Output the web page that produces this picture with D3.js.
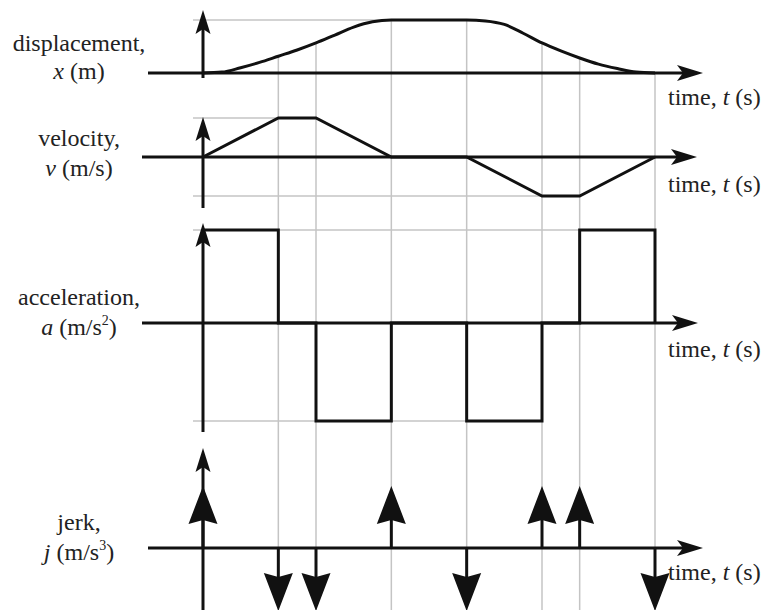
<!DOCTYPE html>
<html>
<head>
<meta charset="utf-8">
<script src="https://cdn.jsdelivr.net/npm/d3@7"></script>
<style>
  body { margin: 0; background: #fff; }
</style>
</head>
<body>
<svg width="769" height="610"></svg>
<script>
// times where something changes (s)
const eventTimes = [0, 2, 3, 5, 7, 9, 10, 12];

// jerk impulses: +1 up, -1 down
const jerkSigns = [1, -1, -1, 1, -1, 1, 1, -1];

// acceleration level from each event until the next one
const accelValues = [1, 0, -1, 0, -1, 0, 1, 0];

// velocity at each event
const velValues = [0, 2, 2, 0, 0, -2, -2, 0];

// displacement
const dispTimes = [0, 0.5, 1, 1.5, 2, 2.5, 3, 3.5, 4, 4.5, 5, 7, 7.5, 8, 8.5, 9, 9.5, 10, 10.5, 11, 11.5, 12];
const dispValues = [0, 0.1, 0.6, 1.2, 1.9, 2.6, 3.4, 4.3, 5.2, 5.8, 6, 6, 5.9, 5.5, 4.5, 3.4, 2.5, 1.7, 1.0, 0.5, 0.1, 0];

const labels = [
  { name: 'displacement,', sym: 'x', unit: ' (m', sup: '' },
  { name: 'velocity,', sym: 'v', unit: ' (m/s', sup: '' },
  { name: 'acceleration,', sym: 'a', unit: ' (m/s', sup: '2' },
  { name: 'jerk,', sym: 'j', unit: ' (m/s', sup: '3' }
];

const svg = d3.select('svg');
const ink = '#111';
const gridColor = '#c4c4c4';
const serif = "'Liberation Serif'";

const x = d3.scaleLinear().domain([0, 12]).range([203, 655]);

const yDisp = d3.scaleLinear().domain([0, 6]).range([73, 20]);
const yVel = d3.scaleLinear().domain([-2, 0, 2]).range([196, 157, 118]);
const yAcc = d3.scaleLinear().domain([-1, 0, 1]).range([421, 323, 230]);
const yJerk = d3.scaleLinear().domain([-1, 0, 1]).range([611, 548, 486]);

// arrowhead polygon with its tip at (tx, ty), pointing along angle (radians)
function arrowHead(tx, ty, angle, len, w, notch) {
  const c = Math.cos(angle), s = Math.sin(angle);
  const pt = (a, b) => [tx - a * c - b * s, ty - a * s + b * c];
  const pts = [pt(0, 0), pt(len, w / 2), pt(len - notch, 0), pt(len, -w / 2)];
  return 'M' + pts.map(p => p.join(',')).join('L') + 'Z';
}

function arrow(g, x1, y1, x2, y2, len, w, notch) {
  const ang = Math.atan2(y2 - y1, x2 - x1);
  g.append('line')
    .attr('x1', x1).attr('y1', y1)
    .attr('x2', x2 - Math.cos(ang) * (len - notch))
    .attr('y2', y2 - Math.sin(ang) * (len - notch))
    .attr('stroke', ink).attr('stroke-width', 3);
  g.append('path')
    .attr('d', arrowHead(x2, y2, ang, len, w, notch))
    .attr('fill', ink);
}

// ---- grid ----
const grid = svg.append('g')
  .attr('stroke', gridColor).attr('stroke-width', 1.5).attr('fill', 'none');

const dispAt = d3.scaleLinear().domain(dispTimes).range(dispValues);
grid.selectAll('.vgrid')
  .data(eventTimes.slice(1))
  .enter().append('line')
    .attr('x1', d => x(d)).attr('x2', d => x(d))
    .attr('y1', d => yDisp(dispAt(d)))
    .attr('y2', 610);

const hgrid = [
  { y: yDisp(6), t: 5 },
  { y: yVel(2), t: 3 },
  { y: yVel(-2), t: 9 },
  { y: yAcc(1), t: 10 },
  { y: yAcc(-1), t: 9 }
];
grid.selectAll('.hgrid')
  .data(hgrid)
  .enter().append('line')
    .attr('x1', 193).attr('x2', d => x(d.t))
    .attr('y1', d => d.y).attr('y2', d => d.y);

// ---- axes ----
const axes = svg.append('g');
// horizontal time axes
arrow(axes, 148, yDisp(0), 703, yDisp(0), 26, 16, 6);
arrow(axes, 142, yVel(0), 697, yVel(0), 26, 16, 6);
arrow(axes, 142, yAcc(0), 698, yAcc(0), 26, 16, 6);
arrow(axes, 148, yJerk(0), 703, yJerk(0), 26, 16, 6);
// vertical axes
arrow(axes, x(0), 78, x(0), 10, 24, 15, 5);
arrow(axes, x(0), 208, x(0), 117, 24, 15, 5);
arrow(axes, x(0), 432, x(0), 223, 24, 15, 5);
arrow(axes, x(0), 610, x(0), 448, 24, 15, 5);

// ---- curves ----
const curves = svg.append('g')
  .attr('fill', 'none').attr('stroke', ink).attr('stroke-width', 3)
  .attr('stroke-linejoin', 'miter');

curves.append('path')
  .datum(dispTimes.map((t, i) => [t, dispValues[i]]))
  .attr('d', d3.line().x(d => x(d[0])).y(d => yDisp(d[1])).curve(d3.curveMonotoneX));

curves.append('path')
  .datum(eventTimes.map((t, i) => [t, velValues[i]]))
  .attr('d', d3.line().x(d => x(d[0])).y(d => yVel(d[1])));

curves.append('path')
  .datum(eventTimes.map((t, i) => [t, accelValues[i]]))
  .attr('d', d3.line().x(d => x(d[0])).y(d => yAcc(d[1])).curve(d3.curveStepAfter));

// jerk impulses
const jerkG = svg.append('g');
eventTimes.forEach((t, i) => {
  arrow(jerkG, x(t), yJerk(0), x(t), yJerk(jerkSigns[i]), 38, 29, 4);
});

// ---- labels ----
function serifText(g, tx, ty) {
  return g.append('text').attr('x', tx).attr('y', ty)
    .style('font-family', serif).style('font-size', '24px').style('fill', '#222');
}

const labelY = [[51, 79], [146, 176], [305, 335], [530, 560]];
const lab = svg.append('g').attr('text-anchor', 'middle');
labels.forEach((l, i) => {
  serifText(lab, 79, labelY[i][0]).text(l.name);
  const t = serifText(lab, 79, labelY[i][1]);
  t.append('tspan').style('font-style', 'italic').text(l.sym);
  t.append('tspan').text(l.unit);
  if (l.sup) {
    t.append('tspan').style('font-size', '14px').attr('dy', -10).text(l.sup);
    t.append('tspan').attr('dy', 10).text(')');
  } else {
    t.append('tspan').text(')');
  }
});

const timeY = [105, 192, 357, 580];
const timeG = svg.append('g');
timeY.forEach(ty => {
  const t = serifText(timeG, 668, ty);
  t.append('tspan').text('time, ');
  t.append('tspan').style('font-style', 'italic').text('t');
  t.append('tspan').text(' (s)');
});
</script>
</body>
</html>
